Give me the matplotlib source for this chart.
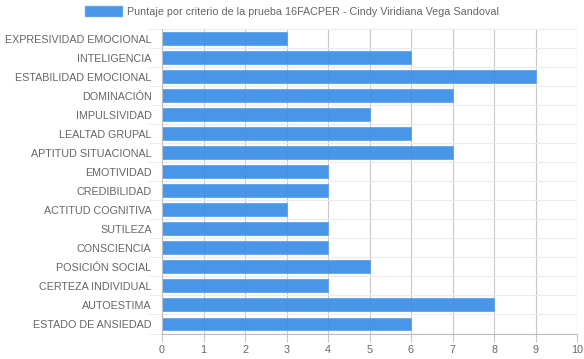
import matplotlib
matplotlib.use('Agg')
from matplotlib import pyplot as plt
from matplotlib.patches import Patch

categorias = ['EXPRESIVIDAD EMOCIONAL', 'INTELIGENCIA', 'ESTABILIDAD EMOCIONAL', 'DOMINACIÓN',
              'IMPULSIVIDAD', 'LEALTAD GRUPAL', 'APTITUD SITUACIONAL', 'EMOTIVIDAD',
              'CREDIBILIDAD', 'ACTITUD COGNITIVA', 'SUTILEZA', 'CONSCIENCIA',
              'POSICIÓN SOCIAL', 'CERTEZA INDIVIDUAL', 'AUTOESTIMA', 'ESTADO DE ANSIEDAD']
puntajes = [3, 6, 9, 7, 5, 6, 7, 4, 4, 3, 4, 4, 5, 4, 8, 6]
titulo = 'Puntaje por criterio de la prueba 16FACPER - Cindy Viridiana Vega Sandoval'

plt.rcParams['font.family'] = ['Liberation Sans', 'DejaVu Sans']

fig = plt.figure(figsize=(5.84, 3.59), dpi=100)
ax = fig.add_axes([162/584, 1-333.5/359, 415/584, 304.5/359])

y = list(range(len(categorias)))
ax.barh(y, puntajes, height=0.68, color='#3f8fe6', alpha=0.95, zorder=2,
        edgecolor='#5aa3ee', linewidth=0.6)

ax.set_xlim(0, 10)
ax.set_ylim(len(categorias)-0.5, -0.5)
ax.set_xticks(range(11))
ax.set_yticks(y)
ax.set_yticklabels(categorias)
ax.set_yticks([i - 0.5 for i in range(len(categorias)+1)], minor=True)

ax.grid(axis='x', color='#c8c8c8', linewidth=0.8, zorder=3)
ax.grid(axis='y', which='minor', color='#ebebeb', linewidth=0.8, zorder=1)
ax.tick_params(axis='y', which='major', length=0, pad=7.5, labelsize=7.75, labelcolor='#666666')
ax.tick_params(axis='y', which='minor', length=10, color='#ebebeb')
ax.tick_params(axis='x', length=6, color='#c8c8c8', labelsize=7.75, labelcolor='#666666', pad=2)

for s in ['top', 'right']:
    ax.spines[s].set_visible(False)
ax.spines['left'].set_color('#bdbdbd')
ax.spines['bottom'].set_color('#bdbdbd')

h = Patch(facecolor='#3f8fe6', edgecolor='#5aa3ee', alpha=0.95)
fig.legend(handles=[h], labels=[titulo], loc='upper center', bbox_to_anchor=(0.5, 1.01),
           frameon=False, fontsize=7.75, handlelength=3.45, handleheight=1.1,
           labelcolor='#666666', handletextpad=0.45)

fig.savefig('out.png', dpi=100)
